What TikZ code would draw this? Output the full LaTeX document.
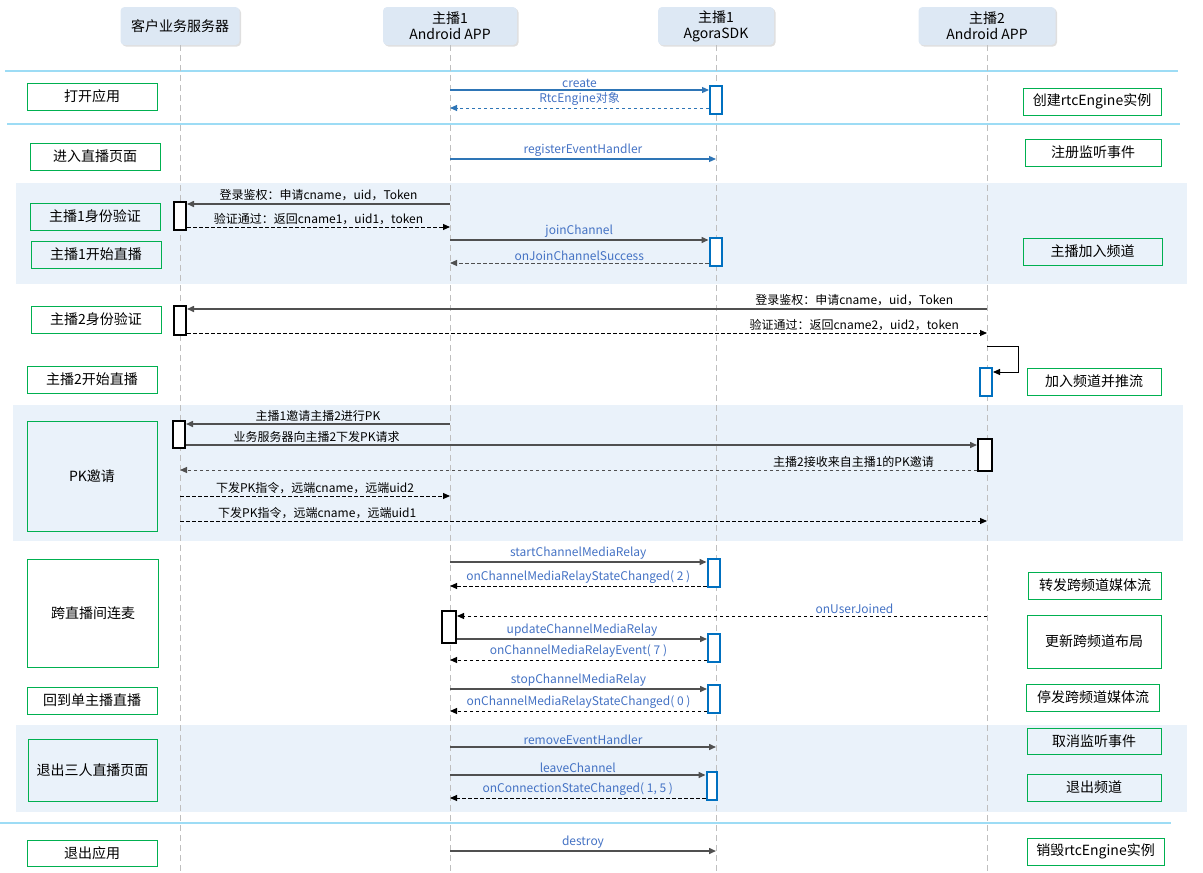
\documentclass[tikz,border=0pt]{standalone}
\usepackage{fontspec}
\setmainfont{Noto Sans CJK SC}
\usetikzlibrary{arrows.meta, shadows}
\definecolor{headfill}{HTML}{DDE8F4}
\definecolor{bandfill}{HTML}{EAF2FA}
\definecolor{sepline}{HTML}{9DDCF5}
\definecolor{boxgreen}{HTML}{00B050}
\definecolor{sdkblue}{HTML}{0070C0}
\definecolor{lblblue}{HTML}{4472C4}
\definecolor{arrblue}{HTML}{2E75B6}
\definecolor{linegray}{HTML}{505050}
\definecolor{lanegray}{HTML}{BFBFBF}
\tikzset{
    x=1pt, y=-1pt, % one unit is one pixel of the layout, y runs down
    >={Triangle[length=7pt,width=6pt]},
    head/.style={fill=headfill, rounded corners=4pt, minimum height=38pt, align=center,
        font=\fontsize{14}{16}\selectfont,
        drop shadow={shadow xshift=1.5pt, shadow yshift=-1.5pt, opacity=0.25}},
    lane/.style={draw=lanegray, line width=1pt, dash pattern=on 6pt off 4pt},
    band/.style={fill=bandfill},
    sep/.style={draw=sepline, line width=2pt},
    stepbox/.style={draw=boxgreen, line width=1pt, minimum height=27pt,
        font=\fontsize{14}{16}\selectfont},
    actbox/.style={draw=black, fill=white, line width=2pt, minimum width=12pt, minimum height=28pt},
    sdkbox/.style={actbox, draw=sdkblue},
    call/.style={->, draw=linegray, line width=1.5pt},
    bluecall/.style={call, draw=arrblue, line width=1.2pt},
    ret/.style={->, draw=black, line width=1pt, dash pattern=on 3.5pt off 2.5pt},
    blueret/.style={ret, draw=arrblue},
    lbl/.style={above, inner sep=2pt, font=\fontsize{12}{14}\selectfont, text=black},
    sdklbl/.style={lbl, text=lblblue},
}

\begin{document}
\begin{tikzpicture}
    \useasboundingbox (0,0) rectangle (1203,873);

    % background bands and separators
    \fill[band] (16,183) rectangle (1187,284);
    \fill[band] (13,405) rectangle (1183,541);
    \fill[band] (16,725) rectangle (1187,812);
    \draw[sep] (5,71) -- (1178,71);
    \draw[sep] (7,124) -- (1180,124);
    \draw[sep] (0,823) -- (1171,823);

    % participants
    \node[head, minimum width=119pt] (hS) at (180,26) {客户业务服务器};
    \node[head, minimum width=134pt] (hA) at (450,26) {主播1\\Android APP};
    \node[head, minimum width=116pt] (hK) at (716,26) {主播1\\AgoraSDK};
    \node[head, minimum width=137pt] (hB) at (987,26) {主播2\\Android APP};
    \foreach \h/\x in {hS/180, hA/450, hK/716, hB/987}
        \draw[lane] (\h.south) -- (\x,873);

    % steps on the left
    \node[stepbox, minimum width=130pt] (open) at (92,96.5) {打开应用};
    \node[stepbox, minimum width=130pt] (enter) at (95,156.5) {进入直播页面};
    \node[stepbox, minimum width=130pt] (auth1) at (95,216.5) {主播1身份验证};
    \node[stepbox, minimum width=130pt] (live1) at (96,254.5) {主播1开始直播};
    \node[stepbox, minimum width=130pt] (auth2) at (96,319.5) {主播2身份验证};
    \node[stepbox, minimum width=130pt] (live2) at (92,379.5) {主播2开始直播};
    \node[stepbox, minimum width=130pt, minimum height=110pt] (pk) at (92,476) {PK邀请};
    \node[stepbox, minimum width=131pt, minimum height=108pt] (co) at (93,613) {跨直播间连麦};
    \node[stepbox, minimum width=130pt] (back) at (92,700.5) {回到单主播直播};
    \node[stepbox, minimum width=129pt, minimum height=62pt] (quit3) at (92.5,770) {退出三人直播页面};
    \node[stepbox, minimum width=130pt, minimum height=26pt] (quit) at (92,853) {退出应用};

    % steps on the right
    \node[stepbox, minimum width=138pt] (mkeng) at (1092,101.5) {创建rtcEngine实例};
    \node[stepbox, minimum width=136pt] (reg) at (1093,152.5) {注册监听事件};
    \node[stepbox, minimum width=139pt] (join) at (1092.5,251.5) {主播加入频道};
    \node[stepbox, minimum width=134pt] (push) at (1094,381.5) {加入频道并推流};
    \node[stepbox, minimum width=133pt] (relay) at (1095,585.5) {转发跨频道媒体流};
    \node[stepbox, minimum width=134pt, minimum height=53pt] (layout) at (1094,641.5) {更新跨频道布局};
    \node[stepbox, minimum width=133pt] (stop) at (1093,697.5) {停发跨频道媒体流};
    \node[stepbox, minimum width=134pt, minimum height=26pt] (unreg) at (1094,741) {取消监听事件};
    \node[stepbox, minimum width=134pt] (leave) at (1094,787.5) {退出频道};
    \node[stepbox, minimum width=137pt] (kill) at (1095.5,851.5) {销毁rtcEngine实例};

    % activations
    \node[sdkbox] (sdk1) at (716,100) {};
    \node[actbox] (srv1) at (180,216) {};
    \node[sdkbox] (sdk2) at (715.5,252) {};
    \node[actbox, minimum height=29pt] (srv2) at (180,320.5) {};
    \node[sdkbox] (app2a) at (986,382) {};
    \node[actbox, minimum height=27pt] (srv3) at (179,434.5) {};
    \node[actbox, minimum width=14pt, minimum height=32pt] (app2b) at (985,455) {};
    \node[sdkbox] (sdk3) at (713.5,573) {};
    \node[actbox, minimum width=14pt, minimum height=32pt] (app1a) at (449,627) {};
    \node[sdkbox] (sdk4) at (714,648) {};
    \node[sdkbox] (sdk5) at (714,699) {};
    \node[sdkbox, minimum width=10pt] (sdk6) at (711.5,786) {};

    % message levels on the lifelines
    \coordinate (m1) at (450,90);   \coordinate (m2) at (450,108);
    \coordinate (m3) at (450,159);  \coordinate (m4) at (450,204);
    \coordinate (m5) at (450,227);  \coordinate (m6) at (450,240);
    \coordinate (m7) at (450,263);  \coordinate (m8) at (987,309);
    \coordinate (m9) at (987,333);  \coordinate (m10) at (987,346);
    \coordinate (m10b) at (987,372); \coordinate (m11) at (450,424);
    \coordinate (m12) at (180,445); \coordinate (m13) at (180,470);
    \coordinate (m14) at (180,496); \coordinate (m15) at (180,521);
    \coordinate (m16) at (450,562); \coordinate (m17) at (450,586);
    \coordinate (m18) at (987,616); \coordinate (m19) at (450,639);
    \coordinate (m20) at (450,660); \coordinate (m21) at (450,689);
    \coordinate (m22) at (450,711); \coordinate (m23) at (450,747);
    \coordinate (m24) at (450,775); \coordinate (m25) at (450,798);
    \coordinate (m26) at (450,851);

    \path (m1) edge[bluecall] node[sdklbl]{create} (m1 -| sdk1.west)
          (m2 -| sdk1.west) edge[blueret] node[sdklbl]{RtcEngine对象} (m2)
          (m3) edge[bluecall] node[sdklbl]{registerEventHandler} (m3 -| hK)
          (m4) edge[call] node[lbl]{登录鉴权：申请cname，uid，Token} (m4 -| srv1.east)
          (m5 -| srv1.east) edge[ret] node[lbl]{验证通过：返回cname1，uid1，token} (m5)
          (m6) edge[call] node[sdklbl]{joinChannel} (m6 -| sdk2.west)
          (m7 -| sdk2.west) edge[ret, draw=linegray] node[sdklbl]{onJoinChannelSuccess} (m7)
          (m8) edge[call] node[lbl, pos=0.166]{登录鉴权：申请cname，uid，Token} (m8 -| srv2.east)
          (m9 -| srv2.east) edge[ret] node[lbl, pos=0.834]{验证通过：返回cname2，uid2，token} (m9);
    \draw[call, draw=black, line width=1pt] (m10) -- ++(31,0) |- (m10b -| app2a.east);
    \path (m11) edge[call] node[lbl]{主播1邀请主播2进行PK} (m11 -| srv3.east)
          (m12 -| srv3.east) edge[call] node[lbl, pos=0.165]{业务服务器向主播2下发PK请求} (m12 -| app2b.west)
          (m13 -| app2b.west) edge[ret, draw=linegray] node[lbl, pos=0.155]{主播2接收来自主播1的PK邀请} (m13)
          (m14) edge[ret] node[lbl]{下发PK指令，远端cname，远端uid2} (m14 -| hA)
          (m15) edge[ret] node[lbl, pos=0.17]{下发PK指令，远端cname，远端uid1} (m15 -| hB)
          (m16) edge[call] node[sdklbl]{startChannelMediaRelay} (m16 -| sdk3.west)
          (m17 -| sdk3.west) edge[ret] node[sdklbl]{onChannelMediaRelayStateChanged( 2 )} (m17)
          (m18) edge[ret] node[sdklbl, pos=0.25]{onUserJoined} (m18 -| app1a.east)
          (m19 -| app1a.east) edge[call] node[sdklbl]{updateChannelMediaRelay} (m19 -| sdk4.west)
          (m20 -| sdk4.west) edge[ret] node[sdklbl]{onChannelMediaRelayEvent( 7 )} (m20)
          (m21) edge[call] node[sdklbl]{stopChannelMediaRelay} (m21 -| sdk5.west)
          (m22 -| sdk5.west) edge[ret] node[sdklbl]{onChannelMediaRelayStateChanged( 0 )} (m22)
          (m23) edge[call] node[sdklbl]{removeEventHandler} (m23 -| hK)
          (m24) edge[call] node[sdklbl]{leaveChannel} (m24 -| sdk6.west)
          (m25 -| sdk6.west) edge[ret] node[sdklbl]{onConnectionStateChanged( 1, 5 )} (m25)
          (m26) edge[call] node[sdklbl]{destroy} (m26 -| hK);
\end{tikzpicture}
\end{document}
